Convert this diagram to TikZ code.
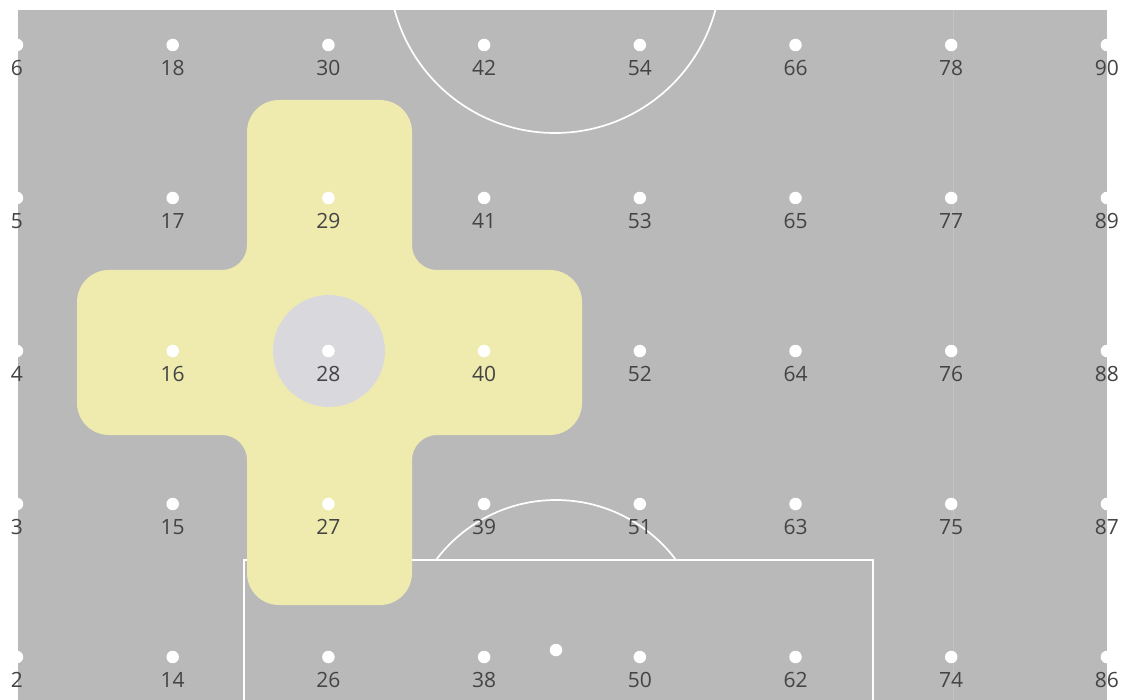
\documentclass[tikz,border=0pt]{standalone}
\usepackage{fontspec}
\setmainfont{Open Sans}
\definecolor{pitch}{HTML}{B9B9B9}
\definecolor{zone}{HTML}{EFEBAE}
\definecolor{focus}{HTML}{D9D9DD}
\definecolor{labelcol}{HTML}{444444}
\definecolor{faint}{HTML}{C2C2C2}
\tikzset{
  fieldline/.style={draw=white, line width=1.7pt},
  spot/.style={circle, fill=white, inner sep=0pt, minimum size=12.5pt},
  numlabel/.style={inner sep=0pt, text=labelcol, font=\fontsize{21}{21}\selectfont}
}
\begin{document}
\begin{tikzpicture}[x=1pt, y=-1pt]
  % canvas
  \fill[white] (0,0) rectangle (1126,700);
  \useasboundingbox (0,0) rectangle (1126,700);
  \fill[pitch] (18,10) rectangle (1107,700);
  \draw[faint, line width=1pt] (953,10) -- (953,700);
  % centre circle (top) and penalty arc
  \begin{scope}
    \clip (18,10) rectangle (1107,560);
    \draw[fieldline] (555,-33) circle[radius=166];
    \draw[fieldline] (556,650) circle[radius=150];
  \end{scope}
  % penalty box
  \coordinate (boxA) at (244,700);
  \coordinate (boxB) at (244,560);
  \coordinate (boxC) at (873,560);
  \coordinate (boxD) at (873,700);
  \draw[fieldline] (boxA) -- (boxB) -- (boxC) -- (boxD);
  % yellow cross zone
  \fill[zone] (279,100) -- (380,100) arc[start angle=-90, end angle=0, radius=32]
    -- (412,245) arc[start angle=180, end angle=90, radius=25]
    -- (550,270) arc[start angle=-90, end angle=0, radius=32]
    -- (582,403) arc[start angle=0, end angle=90, radius=32]
    -- (437,435) arc[start angle=270, end angle=180, radius=25]
    -- (412,573) arc[start angle=0, end angle=90, radius=32]
    -- (279,605) arc[start angle=90, end angle=180, radius=32]
    -- (247,460) arc[start angle=0, end angle=-90, radius=25]
    -- (109,435) arc[start angle=90, end angle=180, radius=32]
    -- (77,302) arc[start angle=180, end angle=270, radius=32]
    -- (222,270) arc[start angle=90, end angle=0, radius=25]
    -- (247,132) arc[start angle=180, end angle=270, radius=32] -- cycle;
  % focus circle
  \fill[focus] (329,351) circle[radius=56];
  % grid of spots and labels
  \foreach \c in {0,...,7}{
    \foreach \r in {0,...,4}{
      \pgfmathsetmacro{\px}{17+155.7*\c}
      \pgfmathsetmacro{\py}{45+153*\r}
      \pgfmathtruncatemacro{\num}{12*\c+6-\r}
      \node[spot] (s\num) at (\px,\py) {};
      \node[numlabel] (l\num) at (\px,\py+23) {\num};
    }
  }
  % penalty spot
  \node[spot] (pen) at (556,650) {};
\end{tikzpicture}
\end{document}
